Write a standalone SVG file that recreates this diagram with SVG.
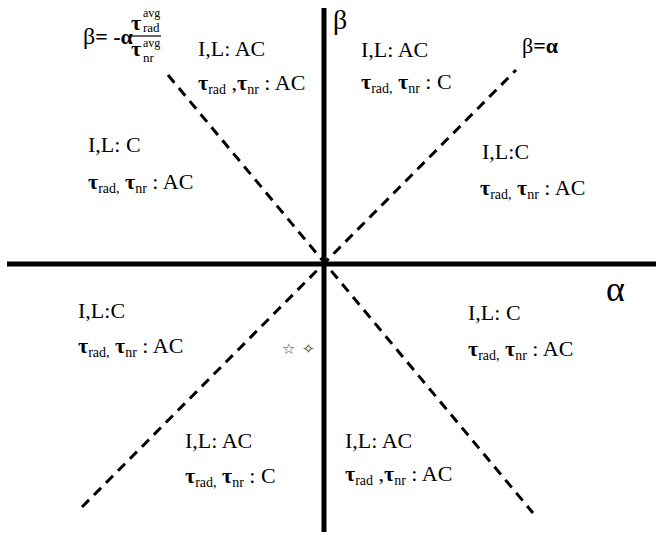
<svg xmlns="http://www.w3.org/2000/svg" width="658" height="535" viewBox="0 0 658 535">
<style>
text{font-family:"Liberation Serif","DejaVu Serif","Times New Roman",serif;fill:#000}
.lbl{font-size:22px}
.t{font-weight:bold}
.sub{font-size:14px}
.axis{stroke:#000;stroke-width:5;fill:none}
.dash{stroke:#000;stroke-width:3;stroke-dasharray:10 7;fill:none}
.sym{font-size:15px;fill:#444}
</style>
<rect width="658" height="535" fill="#fff"/>
<g id="connectors">
<line class="axis" x1="7" y1="264" x2="656" y2="264"/>
<line class="axis" x1="324" y1="8" x2="324" y2="532"/>
<line class="dash" x1="82" y1="507" x2="516" y2="70"/>
<line class="dash" x1="168" y1="75" x2="533" y2="513"/>
</g>
<g id="axis-labels">
<text x="333" y="29" font-family="Liberation Serif, DejaVu Serif, serif" style="font-size:28px">β</text>
<text x="606" y="301" font-family="Liberation Serif, DejaVu Serif, serif" style="font-size:36px">α</text>
</g>
<g id="line-beta-eq-alpha">
<text x="522" y="53" font-family="Liberation Serif, DejaVu Serif, serif" style="font-size:22px">β<tspan font-weight="bold">=α</tspan></text>
</g>
<g id="line-formula" font-family="Liberation Serif, DejaVu Serif, serif">
<text x="83" y="44" style="font-size:24px">β<tspan style="font-size:22px" font-weight="bold">= -α</tspan></text>
<text x="131" y="30" class="t" style="font-size:22px">τ</text>
<text x="143" y="17" style="font-size:12px">avg</text>
<text x="143" y="32" style="font-size:13px">rad</text>
<line x1="130" y1="36" x2="161" y2="36" stroke="#000" stroke-width="1.2"/>
<text x="131" y="56" class="t" style="font-size:22px">τ</text>
<text x="143" y="47" style="font-size:12px">avg</text>
<text x="143" y="62" style="font-size:13px">nr</text>
</g>
<g id="region-top-left" font-family="Liberation Serif, DejaVu Serif, serif">
<text class="lbl" x="198" y="56">I,L: AC</text>
<text class="lbl" x="198" y="90"><tspan class="t">τ</tspan><tspan class="sub" dy="4">rad</tspan><tspan dy="-4"> ,</tspan><tspan class="t">τ</tspan><tspan class="sub" dy="4">nr</tspan><tspan dy="-4"> : AC</tspan></text>
</g>
<g id="region-top-right" font-family="Liberation Serif, DejaVu Serif, serif">
<text class="lbl" x="361" y="57">I,L: AC</text>
<text class="lbl" x="361" y="89"><tspan class="t">τ</tspan><tspan class="sub" dy="4">rad,</tspan><tspan dy="-4"> </tspan><tspan class="t">τ</tspan><tspan class="sub" dy="4">nr</tspan><tspan dy="-4"> : C</tspan></text>
</g>
<g id="region-left-upper" font-family="Liberation Serif, DejaVu Serif, serif">
<text class="lbl" x="88" y="152">I,L: C</text>
<text class="lbl" x="88" y="189"><tspan class="t">τ</tspan><tspan class="sub" dy="4">rad,</tspan><tspan dy="-4"> </tspan><tspan class="t">τ</tspan><tspan class="sub" dy="4">nr</tspan><tspan dy="-4"> : AC</tspan></text>
</g>
<g id="region-right-upper" font-family="Liberation Serif, DejaVu Serif, serif">
<text class="lbl" x="482" y="159">I,L:C</text>
<text class="lbl" x="480" y="195"><tspan class="t">τ</tspan><tspan class="sub" dy="4">rad,</tspan><tspan dy="-4"> </tspan><tspan class="t">τ</tspan><tspan class="sub" dy="4">nr</tspan><tspan dy="-4"> : AC</tspan></text>
</g>
<g id="region-left-lower" font-family="Liberation Serif, DejaVu Serif, serif">
<text class="lbl" x="78" y="318">I,L:C</text>
<text class="lbl" x="78" y="353"><tspan class="t">τ</tspan><tspan class="sub" dy="4">rad,</tspan><tspan dy="-4"> </tspan><tspan class="t">τ</tspan><tspan class="sub" dy="4">nr</tspan><tspan dy="-4"> : AC</tspan></text>
</g>
<g id="region-right-lower" font-family="Liberation Serif, DejaVu Serif, serif">
<text class="lbl" x="468" y="320">I,L: C</text>
<text class="lbl" x="468" y="356"><tspan class="t">τ</tspan><tspan class="sub" dy="4">rad,</tspan><tspan dy="-4"> </tspan><tspan class="t">τ</tspan><tspan class="sub" dy="4">nr</tspan><tspan dy="-4"> : AC</tspan></text>
</g>
<g id="region-bottom-left" font-family="Liberation Serif, DejaVu Serif, serif">
<text class="lbl" x="185" y="448">I,L: AC</text>
<text class="lbl" x="185" y="483"><tspan class="t">τ</tspan><tspan class="sub" dy="4">rad,</tspan><tspan dy="-4"> </tspan><tspan class="t">τ</tspan><tspan class="sub" dy="4">nr</tspan><tspan dy="-4"> : C</tspan></text>
</g>
<g id="region-bottom-right" font-family="Liberation Serif, DejaVu Serif, serif">
<text class="lbl" x="345" y="448">I,L: AC</text>
<text class="lbl" x="345" y="481"><tspan class="t">τ</tspan><tspan class="sub" dy="4">rad</tspan><tspan dy="-4"> ,</tspan><tspan class="t">τ</tspan><tspan class="sub" dy="4">nr</tspan><tspan dy="-4"> : AC</tspan></text>
</g>
<g id="markers" font-family="DejaVu Sans, sans-serif">
<text class="sym" x="282" y="354">☆</text>
<text class="sym" x="302" y="354">✧</text>
</g>
</svg>
